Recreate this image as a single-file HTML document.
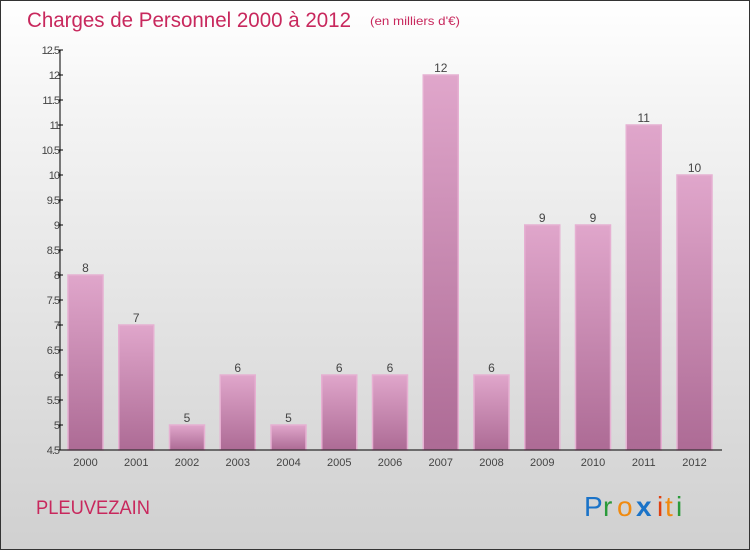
<!DOCTYPE html>
<html><head><meta charset="utf-8"><style>
html,body{margin:0;padding:0;}
body{width:750px;height:550px;overflow:hidden;font-family:"Liberation Sans",sans-serif;}
#wrap{position:absolute;left:0;top:0;width:748px;height:548px;border:1px solid #333;background:linear-gradient(#ffffff,#f4f4f4 20%,#d0d0d0);}
</style></head><body>
<div id="wrap">
<svg id="chart" width="750" height="550" style="position:absolute;left:-1px;top:-1px">
<defs>
<linearGradient id="bg" x1="0" y1="0" x2="0" y2="1"><stop offset="0" stop-color="#e0a6cb"/><stop offset="1" stop-color="#ad6b95"/></linearGradient>
</defs>
<text x="27" y="27" font-size="21" fill="#c8285d" textLength="324" lengthAdjust="spacingAndGlyphs">Charges de Personnel 2000 à 2012</text>
<text x="370" y="25" font-size="12" fill="#c8285d" textLength="90" lengthAdjust="spacingAndGlyphs">(en milliers d'€)</text>
<text x="36" y="514" font-size="19" fill="#c8285d" textLength="114" lengthAdjust="spacingAndGlyphs">PLEUVEZAIN</text>
<g font-size="28">
<text x="584" y="516" fill="#1a73c8">P</text><text x="603" y="516" fill="#2a9a3a">r</text><text x="617" y="516" fill="#f08a10">o</text><text x="636" y="516" fill="#1a73c8" font-weight="bold">x</text><text x="657" y="516" fill="#e04010">i</text><text x="665" y="516" fill="#f08a10">t</text><text x="676" y="516" fill="#2a9a3a">i</text>
</g>
<g id="ticks"></g><g id="bars"></g>
<line x1="60" y1="50" x2="60" y2="450" stroke="#000"/>
<line x1="60" y1="450" x2="722" y2="450" stroke="#000"/>
</svg>
</div>
<script>
const years=["2000","2001","2002","2003","2004","2005","2006","2007","2008","2009","2010","2011","2012"];
const values=[8,7,5,6,5,6,6,12,6,9,9,11,10];
const yTicks=[4.5,5,5.5,6,6.5,7,7.5,8,8.5,9,9.5,10,10.5,11,11.5,12,12.5];
const NS="http://www.w3.org/2000/svg";
const y=v=>450-(v-4.5)*50;
const xc=i=>85.5+i*50.75;
function mk(t,a,p){const e=document.createElementNS(NS,t);for(const k in a)e.setAttribute(k,a[k]);p.appendChild(e);return e;}
const tg=document.getElementById('ticks'),bg=document.getElementById('bars');
yTicks.forEach(v=>{
 const l=mk('line',{x1:58,x2:63,y1:y(v),y2:y(v),stroke:'#000'},tg);
 
 
 const t=mk('text',{x:59,y:y(v)+4,'text-anchor':'end','font-size':11,fill:'#444','letter-spacing':'-1'},tg);
 t.textContent=String(v);
 
 
});
values.forEach((v,i)=>{
 const r=mk('rect',{x:xc(i)-17.5,y:y(v),width:35,height:450-y(v),fill:'url(#bg)',stroke:'#e6b0d2','stroke-width':1.5},bg);
 
 
 const t=mk('text',{x:xc(i),y:y(v)-3,'text-anchor':'middle','font-size':12,fill:'#444'},bg);
 t.textContent=String(v);
 
 
 const xl=mk('text',{x:xc(i),y:466,'text-anchor':'middle','font-size':11,fill:'#444'},bg);
 xl.textContent=years[i];
 
 
});
</script>
</body></html>
